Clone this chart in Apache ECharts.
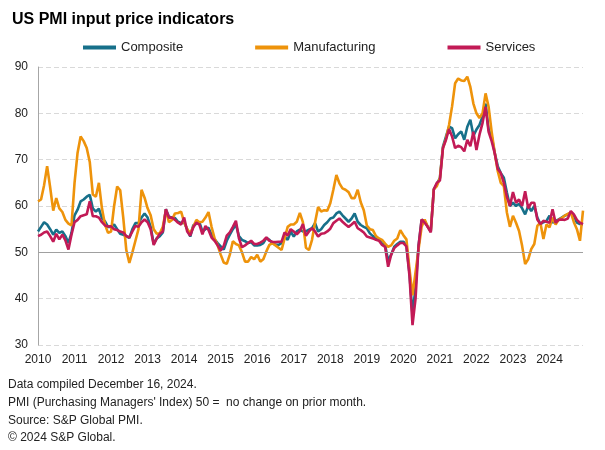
<!DOCTYPE html>
<html>
<head>
<meta charset="utf-8">
<script src="https://cdn.jsdelivr.net/npm/echarts@6/dist/echarts.min.js"></script>
<style>html,body{margin:0;padding:0;background:#fff}#c{width:605px;height:450px}</style>
</head>
<body>
<div id="c"></div>
<script>
// Years shown on the category axis (monthly data, Jan 2010 - Dec 2024)
const years = ['2010','2011','2012','2013','2014','2015','2016','2017','2018','2019','2020','2021','2022','2023','2024'];
const yTicks = [30, 40, 50, 60, 70, 80, 90];

const composite = [
  54.5, 55.5, 56.5, 56.0, 55.0, 53.8, 54.9, 54.2, 54.5, 53.5, 52.0, 54.2,
  58.0, 59.2, 61.0, 61.4, 62.0, 62.4, 59.5, 58.8, 59.4, 57.4, 56.7, 55.5,
  55.5, 56.0, 55.0, 54.0, 53.8, 53.5, 53.1, 55.0, 56.3, 56.3, 57.5, 58.4,
  57.5, 55.5, 51.8, 53.0, 53.5, 54.3, 59.3, 57.7, 57.5, 57.4, 56.6, 56.3,
  56.5, 55.0, 53.4, 55.8, 56.2, 56.5, 54.5, 55.0, 55.3, 53.8, 52.8, 52.0,
  51.3, 50.6, 52.5, 53.8, 55.0, 56.0, 53.5, 52.7, 52.4, 52.0, 52.2, 51.5,
  51.5, 51.6, 52.0, 53.1, 52.7, 52.0, 51.6, 51.6, 52.0, 53.4, 52.7, 54.5,
  53.4, 54.5, 54.9, 54.5, 54.5, 54.9, 55.2, 56.3, 54.5, 55.0, 55.9, 56.5,
  57.3, 57.5, 58.4, 58.8, 58.0, 57.3, 56.6, 57.3, 58.4, 56.6, 55.9, 55.5,
  55.2, 54.1, 53.5, 53.0, 52.7, 51.9, 51.6, 48.2, 49.5, 51.2, 51.8, 52.3,
  52.3, 51.5, 45.5, 36.5, 42.5, 51.5, 57.0, 56.8, 55.5, 54.5, 63.6, 64.8,
  66.0, 72.8, 75.0, 77.1, 76.8, 74.6, 75.5, 76.1, 74.3, 77.1, 78.6, 75.2,
  76.5, 77.5, 79.3, 82.1, 76.5, 75.0, 71.5, 68.6, 67.1, 66.1, 62.9, 60.0,
  60.7, 60.0, 60.5, 59.5, 58.2, 60.0, 58.9, 60.0, 57.5, 56.1, 56.5, 56.8,
  57.9, 56.4, 56.8, 57.1, 57.5, 57.9, 58.2, 58.6, 57.9, 56.4, 56.1, 56.0
];

const manufacturing = [
  61.0, 61.4, 64.5, 68.6, 64.0, 59.0, 61.7, 59.5, 58.7, 57.0, 56.2, 55.8,
  65.0, 71.5, 75.0, 74.0, 72.5, 69.5, 62.5, 62.0, 65.0, 59.5, 56.0, 54.2,
  54.5, 60.0, 64.2, 63.4, 57.5, 50.5, 47.7, 50.0, 52.5, 55.0, 63.5, 61.8,
  59.5, 58.0, 55.0, 54.0, 54.1, 55.5, 59.1, 56.5, 57.0, 58.4, 58.5, 58.8,
  56.5, 55.0, 54.1, 55.5, 57.0, 56.5, 56.6, 57.5, 58.7, 55.5, 53.0, 51.5,
  49.5, 47.8, 47.5, 49.5, 52.4, 51.8, 51.5, 50.0, 48.0, 48.0, 49.0, 48.5,
  49.5, 48.0, 48.5, 50.2, 51.6, 52.0, 51.5, 51.0, 50.5, 53.0, 55.5, 56.0,
  56.0, 56.6, 58.5, 56.5, 51.0, 50.5, 52.7, 56.5, 59.8, 58.8, 59.1, 59.0,
  60.6, 63.5, 66.7, 64.9, 63.8, 63.5, 63.0, 61.7, 61.7, 63.5, 60.8, 59.1,
  55.8, 55.0, 54.8, 53.5, 53.0, 52.7, 51.9, 51.2, 51.5, 52.5, 53.0, 54.8,
  53.7, 52.8, 46.5, 40.7, 45.7, 50.7, 55.5, 57.1, 55.5, 54.6, 63.6, 64.3,
  66.0, 72.5, 74.5, 77.5, 81.5, 86.5, 87.5, 87.1, 87.0, 87.9, 85.7, 82.1,
  80.0, 79.0, 80.0, 84.3, 81.4, 76.0, 71.5, 67.5, 65.0, 64.3, 58.6, 55.5,
  57.9, 56.4, 54.6, 51.4, 47.5, 48.5, 50.7, 51.8, 55.7, 56.4, 52.9, 56.0,
  55.4, 57.5, 56.0, 57.0, 57.4, 57.9, 58.3, 58.6, 56.5, 55.0, 52.5, 59.0
];

const services = [
  53.5, 53.8, 54.3, 54.5, 53.5, 52.3, 54.0, 52.8, 53.8, 52.6, 50.6, 53.8,
  56.5, 57.0, 57.8, 58.0, 58.2, 61.0, 57.8, 57.8, 57.5, 56.5, 55.8, 55.6,
  55.6, 55.0, 54.8, 54.5, 54.3, 53.5, 53.2, 54.5, 55.7, 55.5, 56.5, 57.1,
  56.5, 55.0, 51.6, 53.0, 54.0, 54.5, 59.3, 57.5, 57.5, 57.0, 56.4, 56.0,
  57.5, 54.5, 53.6, 55.4, 56.4, 56.0, 53.9, 55.7, 54.8, 53.2, 52.5, 51.5,
  50.4, 51.4, 53.6, 54.3, 55.5, 56.8, 53.0, 51.1, 51.5, 52.0, 52.5, 51.8,
  51.8, 52.1, 52.5, 53.2, 52.5, 52.3, 52.2, 52.3, 52.3, 54.3, 53.6, 55.0,
  54.5, 53.9, 54.6, 56.1, 53.6, 54.5, 55.2, 54.5, 53.4, 54.0, 54.1, 54.5,
  55.1, 56.3, 56.8, 57.3, 56.6, 56.0, 55.5, 56.0, 56.6, 55.2, 54.8, 54.3,
  53.4, 53.2, 53.0, 52.7, 52.5, 51.6, 51.2, 46.9, 49.5, 50.9, 51.5, 52.0,
  52.0, 51.3, 45.0, 34.3, 40.0, 51.5, 57.1, 56.4, 55.5, 54.3, 63.6, 65.0,
  65.5, 72.5, 74.3, 76.6, 75.0, 72.5, 73.0, 72.7, 71.8, 74.3, 72.9, 76.0,
  72.1, 75.4, 77.9, 81.4, 76.0, 74.0, 71.4, 68.0, 67.1, 65.0, 62.0, 60.0,
  63.0, 60.7, 61.4, 60.0, 63.2, 59.5, 60.7, 60.7, 57.1, 56.1, 56.8, 56.6,
  56.4, 59.3, 56.4, 57.0, 57.1, 57.0, 57.3, 58.9, 58.2, 57.0, 56.4, 56.1
];

const categories = [];
years.forEach(y => { for (let m = 1; m <= 12; m++) categories.push(y + '-' + String(m).padStart(2, '0')); });

const FONT = '"Liberation Sans", Arial, sans-serif';
const chart = echarts.init(document.getElementById('c'));
const lineSeries = (name, data, color, extra) => Object.assign({
  name, type: 'line', data, symbol: 'none', showSymbol: false,
  lineStyle: { color, width: 2.6 }, itemStyle: { color }
}, extra || {});

chart.setOption({
  animation: false,
  textStyle: { fontFamily: FONT },
  title: {
    text: 'US PMI input price indicators', left: 7, top: 7,
    textStyle: { fontFamily: FONT, fontSize: 16, fontWeight: 'bold', color: '#000' }
  },
  legend: {
    left: 78, top: 36, itemGap: 72, itemWidth: 33, itemHeight: 4, icon: 'rect',
    textStyle: { fontFamily: FONT, fontSize: 13, color: '#222' },
    data: ['Composite', 'Manufacturing', 'Services']
  },
  grid: { left: 38, right: 22, top: 67, bottom: 105 },
  xAxis: {
    type: 'category', data: categories, boundaryGap: false,
    axisLine: { show: false }, axisTick: { show: false }, splitLine: { show: false },
    axisLabel: {
      interval: (i) => i % 12 === 0,
      formatter: (v) => v.slice(0, 4),
      fontFamily: FONT, fontSize: 12, color: '#222', margin: 9
    }
  },
  yAxis: {
    type: 'value', min: yTicks[0], max: yTicks[yTicks.length - 1], interval: 10,
    axisLine: { show: true, lineStyle: { color: '#a6a6a6', width: 1 } },
    axisTick: { show: false },
    axisLabel: { fontFamily: FONT, fontSize: 12, color: '#222', margin: 10 },
    splitLine: { lineStyle: { color: '#d9d9d9', type: [5, 3], width: 1 } }
  },
  series: [
    lineSeries('Composite', composite, '#17708a', {
      markLine: {
        silent: true, symbol: 'none', label: { show: false },
        lineStyle: { color: '#a0a0a0', type: 'solid', width: 1.2 },
        data: [{ yAxis: 50 }]
      }
    }),
    lineSeries('Manufacturing', manufacturing, '#ee930b'),
    lineSeries('Services', services, '#c21a56')
  ],
  graphic: [
    { type: 'text', left: 8, top: 379, style: { text: 'Data compiled December 16, 2024.', font: '12px ' + FONT, fill: '#222' } },
    { type: 'text', left: 8, top: 397, style: { text: "PMI (Purchasing Managers' Index) 50 =  no change on prior month.", font: '12px ' + FONT, fill: '#222' } },
    { type: 'text', left: 8, top: 415, style: { text: 'Source: S&P Global PMI.', font: '12px ' + FONT, fill: '#222' } },
    { type: 'text', left: 8, top: 432, style: { text: '\u00A9 2024 S&P Global.', font: '12px ' + FONT, fill: '#222' } }
  ]
});
</script>
</body>
</html>
